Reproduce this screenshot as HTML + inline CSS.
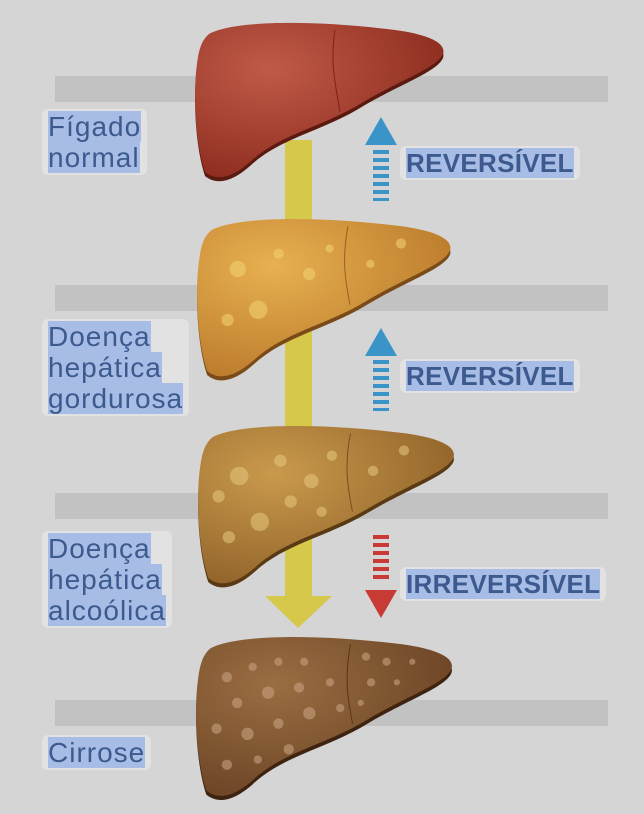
<!DOCTYPE html>
<html><head><meta charset="utf-8"><style>
body{margin:0;width:644px;height:814px;background:#d5d5d5;position:relative;overflow:hidden;font-family:"Liberation Sans",sans-serif}
.bar{position:absolute;left:55px;width:553px;height:26px;background:#c2c2c2}
.lab{position:absolute;color:#3c5a8e;font-size:28px;line-height:31px;letter-spacing:1px;background:rgba(235,235,235,.6);padding:2px 6px;border-radius:6px}
.lab span{background:#a8bde6}
.r{font-weight:bold;font-size:26px;letter-spacing:0.3px;line-height:30px}
svg{position:absolute;left:0;top:0}
</style></head><body>
<div class="bar" style="top:76px"></div>
<div class="bar" style="top:285px"></div>
<div class="bar" style="top:493px"></div>
<div class="bar" style="top:700px"></div>
<svg width="644" height="814">
<defs>
<path id="lv" d="M14 12 C40 -2,120 -2,200 8 C230 12,252 20,248 32 C242 46,205 58,165 82 C125 106,85 112,55 140 C38 155,22 160,10 150 C0 120,-2 70,2 42 C4 26,7 18,14 12 Z"/>
<radialGradient id="g1" cx="0.3" cy="0.3" r="0.8"><stop offset="0" stop-color="#c05a48"/><stop offset="1" stop-color="#8a2a1c"/></radialGradient>
<radialGradient id="g2" cx="0.3" cy="0.3" r="0.8"><stop offset="0" stop-color="#e8b050"/><stop offset="1" stop-color="#b8782a"/></radialGradient>
<radialGradient id="g3" cx="0.3" cy="0.3" r="0.8"><stop offset="0" stop-color="#c99a4c"/><stop offset="1" stop-color="#8e6028"/></radialGradient>
<radialGradient id="g4" cx="0.3" cy="0.3" r="0.8"><stop offset="0" stop-color="#9a6e42"/><stop offset="1" stop-color="#6a4224"/></radialGradient>
</defs>
<rect x="285" y="140" width="27" height="460" fill="#d6c84a"/>
<polygon points="265,596 332,596 298,628" fill="#d6c84a"/>
<g transform="translate(195,22)"><use href="#lv" transform="translate(0,4)" fill="#5a1a10"/><use href="#lv" fill="url(#g1)"/><path d="M140 8 C135 40,140 60,145 90" stroke="#7a2418" fill="none"/></g>
<g transform="translate(197,218) scale(1.02,1.02)"><use href="#lv" transform="translate(0,4)" fill="#7a4a18"/><use href="#lv" fill="url(#g2)"/><path d="M148 8 C142 40,145 60,150 85" stroke="#9a6020" fill="none"/>
<g fill="#f0d070" opacity=".6"><circle cx="40" cy="50" r="8"/><circle cx="80" cy="35" r="5"/><circle cx="60" cy="90" r="9"/><circle cx="110" cy="55" r="6"/><circle cx="30" cy="100" r="6"/><circle cx="200" cy="25" r="5"/><circle cx="170" cy="45" r="4"/><circle cx="130" cy="30" r="4"/></g></g>
<g transform="translate(198,425) scale(1.03,1.02)"><use href="#lv" transform="translate(0,4)" fill="#5a3a14"/><use href="#lv" fill="url(#g3)"/><path d="M148 8 C142 40,145 60,150 85" stroke="#7a5020" fill="none"/>
<g fill="#e8c880" opacity=".55"><circle cx="40" cy="50" r="9"/><circle cx="80" cy="35" r="6"/><circle cx="60" cy="95" r="9"/><circle cx="110" cy="55" r="7"/><circle cx="30" cy="110" r="6"/><circle cx="200" cy="25" r="5"/><circle cx="170" cy="45" r="5"/><circle cx="130" cy="30" r="5"/><circle cx="90" cy="75" r="6"/><circle cx="20" cy="70" r="6"/><circle cx="120" cy="85" r="5"/></g></g>
<g transform="translate(196,636) scale(1.03,1.03)"><use href="#lv" transform="translate(0,4)" fill="#3e2410"/><use href="#lv" fill="url(#g4)"/><path d="M150 8 C144 40,147 60,152 85" stroke="#5a3618" fill="none"/>
<g fill="#c8a080" opacity=".6"><circle cx="30" cy="40" r="5"/><circle cx="55" cy="30" r="4"/><circle cx="80" cy="25" r="4"/><circle cx="105" cy="25" r="4"/><circle cx="40" cy="65" r="5"/><circle cx="70" cy="55" r="6"/><circle cx="100" cy="50" r="5"/><circle cx="130" cy="45" r="4"/><circle cx="20" cy="90" r="5"/><circle cx="50" cy="95" r="6"/><circle cx="80" cy="85" r="5"/><circle cx="110" cy="75" r="6"/><circle cx="30" cy="125" r="5"/><circle cx="60" cy="120" r="4"/><circle cx="90" cy="110" r="5"/><circle cx="165" cy="20" r="4"/><circle cx="185" cy="25" r="4"/><circle cx="210" cy="25" r="3"/><circle cx="170" cy="45" r="4"/><circle cx="195" cy="45" r="3"/><circle cx="160" cy="65" r="3"/><circle cx="140" cy="70" r="4"/></g></g>
<g fill="#3a94c8"><polygon points="365,145 397,145 381,117"/><rect x="373" y="150" width="16" height="4"/><rect x="373" y="158" width="16" height="4"/><rect x="373" y="166" width="16" height="4"/><rect x="373" y="174" width="16" height="4"/><rect x="373" y="182" width="16" height="4"/><rect x="373" y="190" width="16" height="4"/><rect x="373" y="198" width="16" height="3"/></g>
<g fill="#3a94c8"><polygon points="365,356 397,356 381,328"/><rect x="373" y="360" width="16" height="4"/><rect x="373" y="368" width="16" height="4"/><rect x="373" y="376" width="16" height="4"/><rect x="373" y="384" width="16" height="4"/><rect x="373" y="392" width="16" height="4"/><rect x="373" y="400" width="16" height="4"/><rect x="373" y="408" width="16" height="3"/></g>
<g fill="#c83a34"><rect x="373" y="535" width="16" height="4"/><rect x="373" y="543" width="16" height="4"/><rect x="373" y="551" width="16" height="4"/><rect x="373" y="559" width="16" height="4"/><rect x="373" y="567" width="16" height="4"/><rect x="373" y="575" width="16" height="4"/><polygon points="365,590 397,590 381,618"/></g>
</svg>
<div class="lab" style="left:42px;top:109px"><span>Fígado</span><br><span>normal</span></div>
<div class="lab" style="left:42px;top:319px"><span>Doença</span><br><span>hepática</span><br><span>gordurosa</span></div>
<div class="lab" style="left:42px;top:531px"><span>Doença</span><br><span>hepática</span><br><span>alcoólica</span></div>
<div class="lab" style="left:42px;top:735px"><span>Cirrose</span></div>
<div class="lab r" style="left:400px;top:146px"><span>REVERSÍVEL</span></div>
<div class="lab r" style="left:400px;top:359px"><span>REVERSÍVEL</span></div>
<div class="lab r" style="left:400px;top:567px"><span>IRREVERSÍVEL</span></div>
</body></html>
